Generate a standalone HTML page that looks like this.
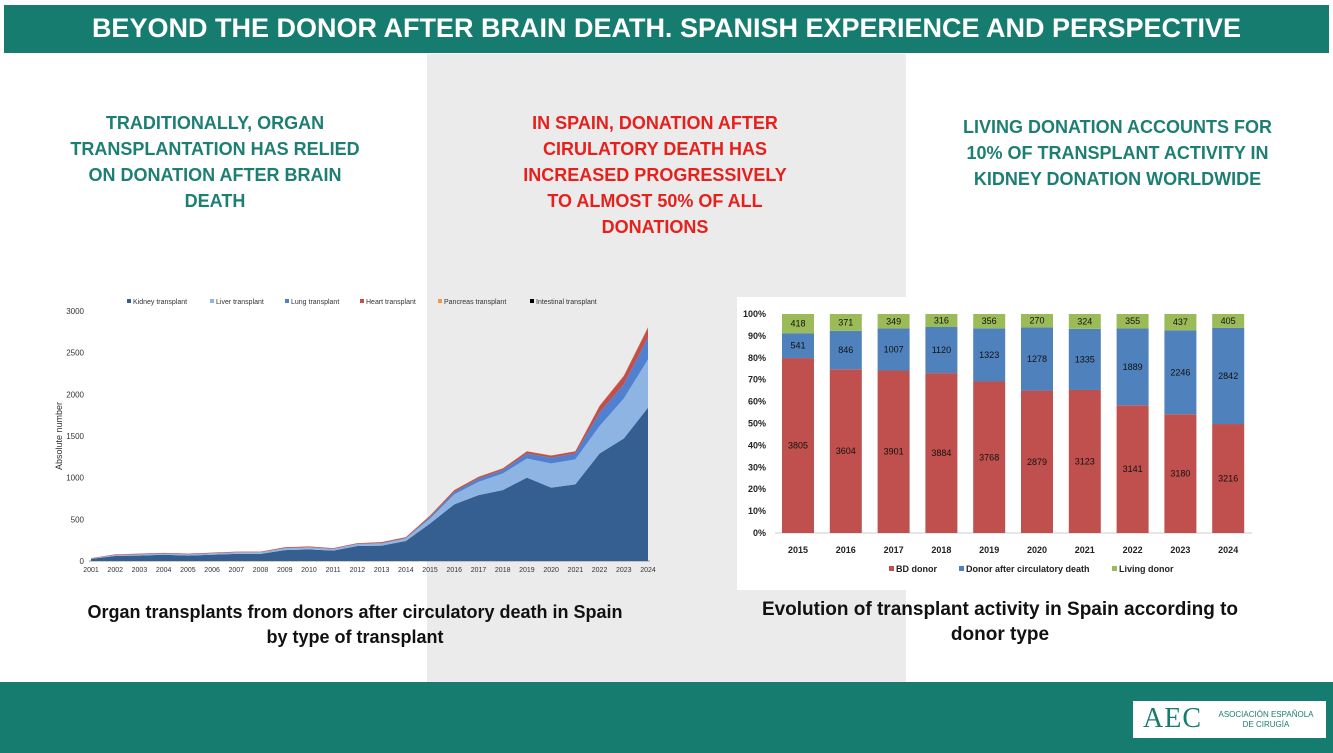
<!DOCTYPE html>
<html><head><meta charset="utf-8">
<style>
body{margin:0;width:1333px;height:753px;position:relative;background:#fff;font-family:"Liberation Sans",sans-serif;overflow:hidden}
.abs{position:absolute}
.head{left:4px;top:5px;width:1325px;height:48px;background:#177c70;color:#fff;font-weight:bold;font-size:27px;text-align:center;line-height:46px}
.grey{left:427px;top:54px;width:479px;height:628px;background:#ebebeb}
.msg{font-weight:bold;font-size:18px;line-height:26px;text-align:center}
.foot{left:0;top:682px;width:1333px;height:71px;background:#177c70}
.cap{font-weight:bold;font-size:19px;text-align:center;line-height:25px;color:#111}
</style></head><body>
<div class="abs head">BEYOND THE DONOR AFTER BRAIN DEATH. SPANISH EXPERIENCE AND PERSPECTIVE</div>
<div class="abs grey"></div>
<div class="abs msg" style="left:40px;top:110px;width:350px;color:#1d7f73">TRADITIONALLY, ORGAN<br>TRANSPLANTATION HAS RELIED<br>ON DONATION AFTER BRAIN<br>DEATH</div>
<div class="abs msg" style="left:480px;top:110px;width:350px;color:#e8201c">IN SPAIN, DONATION AFTER<br>CIRULATORY DEATH HAS<br>INCREASED PROGRESSIVELY<br>TO ALMOST 50% OF ALL<br>DONATIONS</div>
<div class="abs msg" style="left:930px;top:114px;width:375px;color:#1d7f73">LIVING DONATION ACCOUNTS FOR<br>10% OF TRANSPLANT ACTIVITY IN<br>KIDNEY DONATION WORLDWIDE</div>

<svg class="abs" style="left:0;top:0" width="1333" height="753">
<rect x="737" y="297" width="533" height="293" fill="#fff"/>
<g id="area"></g>
<g id="bars"></g>
</svg>

<div class="abs cap" style="left:45px;top:600px;width:620px;font-size:18px">Organ transplants from donors after circulatory death in Spain<br>by type of transplant</div>
<div class="abs cap" style="left:730px;top:597px;width:540px">Evolution of transplant activity in Spain according to<br>donor type</div>

<div class="abs foot"></div>
<div class="abs" style="left:1133px;top:701px;width:193px;height:37px;background:#fff">
<span class="abs" style="left:10px;top:2px;font-size:28px;color:#177c70;font-family:'Liberation Serif',serif;letter-spacing:1px">AEC</span>
<span class="abs" style="left:78px;top:9px;font-size:8px;color:#177c70;line-height:10px;text-align:center;width:110px">ASOCIACIÓN ESPAÑOLA<br>DE CIRUGÍA</span>
</div>

<script>
const NS='http://www.w3.org/2000/svg';
function mk(p,t,a){const e=document.createElementNS(NS,t);for(const k in a)e.setAttribute(k,a[k]);p.appendChild(e);return e;}
// ---- Area chart data
const years=['2001','2002','2003','2004','2005','2006','2007','2008','2009','2010','2011','2012','2013','2014','2015','2016','2017','2018','2019','2020','2021','2022','2023','2024'];
const kidney=[25,60,65,75,65,75,85,85,130,140,125,180,185,240,450,680,790,850,1000,880,920,1290,1470,1840];
const liver=[5,12,15,15,15,18,20,20,25,25,20,25,25,30,60,120,160,200,230,290,300,330,480,580];
const lung=[0,0,0,0,0,0,0,0,0,0,0,0,5,5,20,30,40,40,60,70,70,160,170,260];
const heart=[5,8,8,8,8,8,8,8,10,10,10,10,12,12,15,20,20,20,25,25,25,80,100,120];
const pancreas=[0,0,0,0,0,0,0,0,0,0,0,0,0,0,2,2,3,3,3,3,3,5,6,8];
const areaTicks=[0,500,1000,1500,2000,2500,3000];
const ax=i=>91+i*(648-91)/(years.length-1);
const ay=v=>561-v*(250/3000);
const A=document.getElementById('area');
areaTicks.forEach(t=>{const e=mk(A,'text',{x:84,y:ay(t)+3,'font-size':8,'text-anchor':'end',fill:'#333'});e.textContent=t;});
mk(A,'line',{x1:89,y1:561,x2:650,y2:561,stroke:'#999','stroke-width':1});
years.forEach((y,i)=>{const e=mk(A,'text',{x:ax(i),y:572,'font-size':7,'text-anchor':'middle',fill:'#333'});e.textContent=y;});
const yt=mk(A,'text',{x:62,y:436,'font-size':9,'text-anchor':'middle',fill:'#333',transform:'rotate(-90 62 436)'});yt.textContent='Absolute number';
const series=[[kidney,'#365f91','Kidney transplant'],[liver,'#8eb4e3','Liver transplant'],[lung,'#4f81d0','Lung transplant'],[heart,'#c0504d','Heart transplant'],[pancreas,'#f79646','Pancreas transplant']];
let base=years.map(()=>0);
series.forEach(([arr,col,name])=>{
  const top=base.map((b,i)=>b+arr[i]);
  let d='M'+top.map((v,i)=>ax(i)+','+ay(v)).join(' L');
  for(let i=years.length-1;i>=0;i--)d+=' L'+ax(i)+','+ay(base[i]);
  const p=mk(A,'path',{d:d+'Z',fill:col});
  
  
  base=top;
});
const legs=[['Kidney transplant','#365f91',127],['Liver transplant','#8eb4e3',210],['Lung transplant','#4f81d0',285],['Heart transplant','#c0504d',360],['Pancreas transplant','#f79646',438],['Intestinal transplant','#000',530]];
legs.forEach(([n,c,x])=>{const g=mk(A,'g',{});


mk(g,'rect',{x:x,y:299,width:4,height:4,fill:c});const t=mk(g,'text',{x:x+6,y:304,'font-size':7,fill:'#333'});t.textContent=n;});
// ---- Bar chart data
const barYears=['2015','2016','2017','2018','2019','2020','2021','2022','2023','2024'];
const bd=[3805,3604,3901,3884,3768,2879,3123,3141,3180,3216];
const dcd=[541,846,1007,1120,1323,1278,1335,1889,2246,2842];
const living=[418,371,349,316,356,270,324,355,437,405];
const pctTicks=[0,10,20,30,40,50,60,70,80,90,100];
const B=document.getElementById('bars');
const bx=i=>798+i*47.8;
const by=p=>533-p*(219/100);
pctTicks.forEach(t=>{const e=mk(B,'text',{x:766,y:by(t)+3,'font-size':9,'font-weight':'bold','text-anchor':'end',fill:'#222'});e.textContent=t+'%';});
mk(B,'line',{x1:775,y1:533,x2:1252,y2:533,stroke:'#ccc'});
const bw=32;
barYears.forEach((yr,i)=>{
  const tot=bd[i]+dcd[i]+living[i];
  const segs=[[bd[i],'#c0504d'],[dcd[i],'#4f81bd'],[living[i],'#9bbb59']];
  let acc=0;
  segs.forEach(([v,c],k)=>{
    const p0=acc/tot*100,p1=(acc+v)/tot*100;acc+=v;
    const r=mk(B,'rect',{x:bx(i)-bw/2,y:by(p1),width:bw,height:by(p0)-by(p1),fill:c});
    
    
    const t=mk(B,'text',{x:bx(i),y:(by(p0)+by(p1))/2+3,'font-size':9,'text-anchor':'middle',fill:'#111'});t.textContent=v;
  });
  const t=mk(B,'text',{x:bx(i),y:553,'font-size':9,'font-weight':'bold','text-anchor':'middle',fill:'#222'});t.textContent=yr;
});
[['BD donor','#c0504d',889],['Donor after circulatory death','#4f81bd',959],['Living donor','#9bbb59',1112]].forEach(([n,c,x])=>{
  const g=mk(B,'g',{});
  
  
  mk(g,'rect',{x:x,y:566,width:5,height:5,fill:c});
  const t=mk(g,'text',{x:x+7,y:572,'font-size':9,'font-weight':'bold',fill:'#222'});t.textContent=n;});
</script>
</body></html>
